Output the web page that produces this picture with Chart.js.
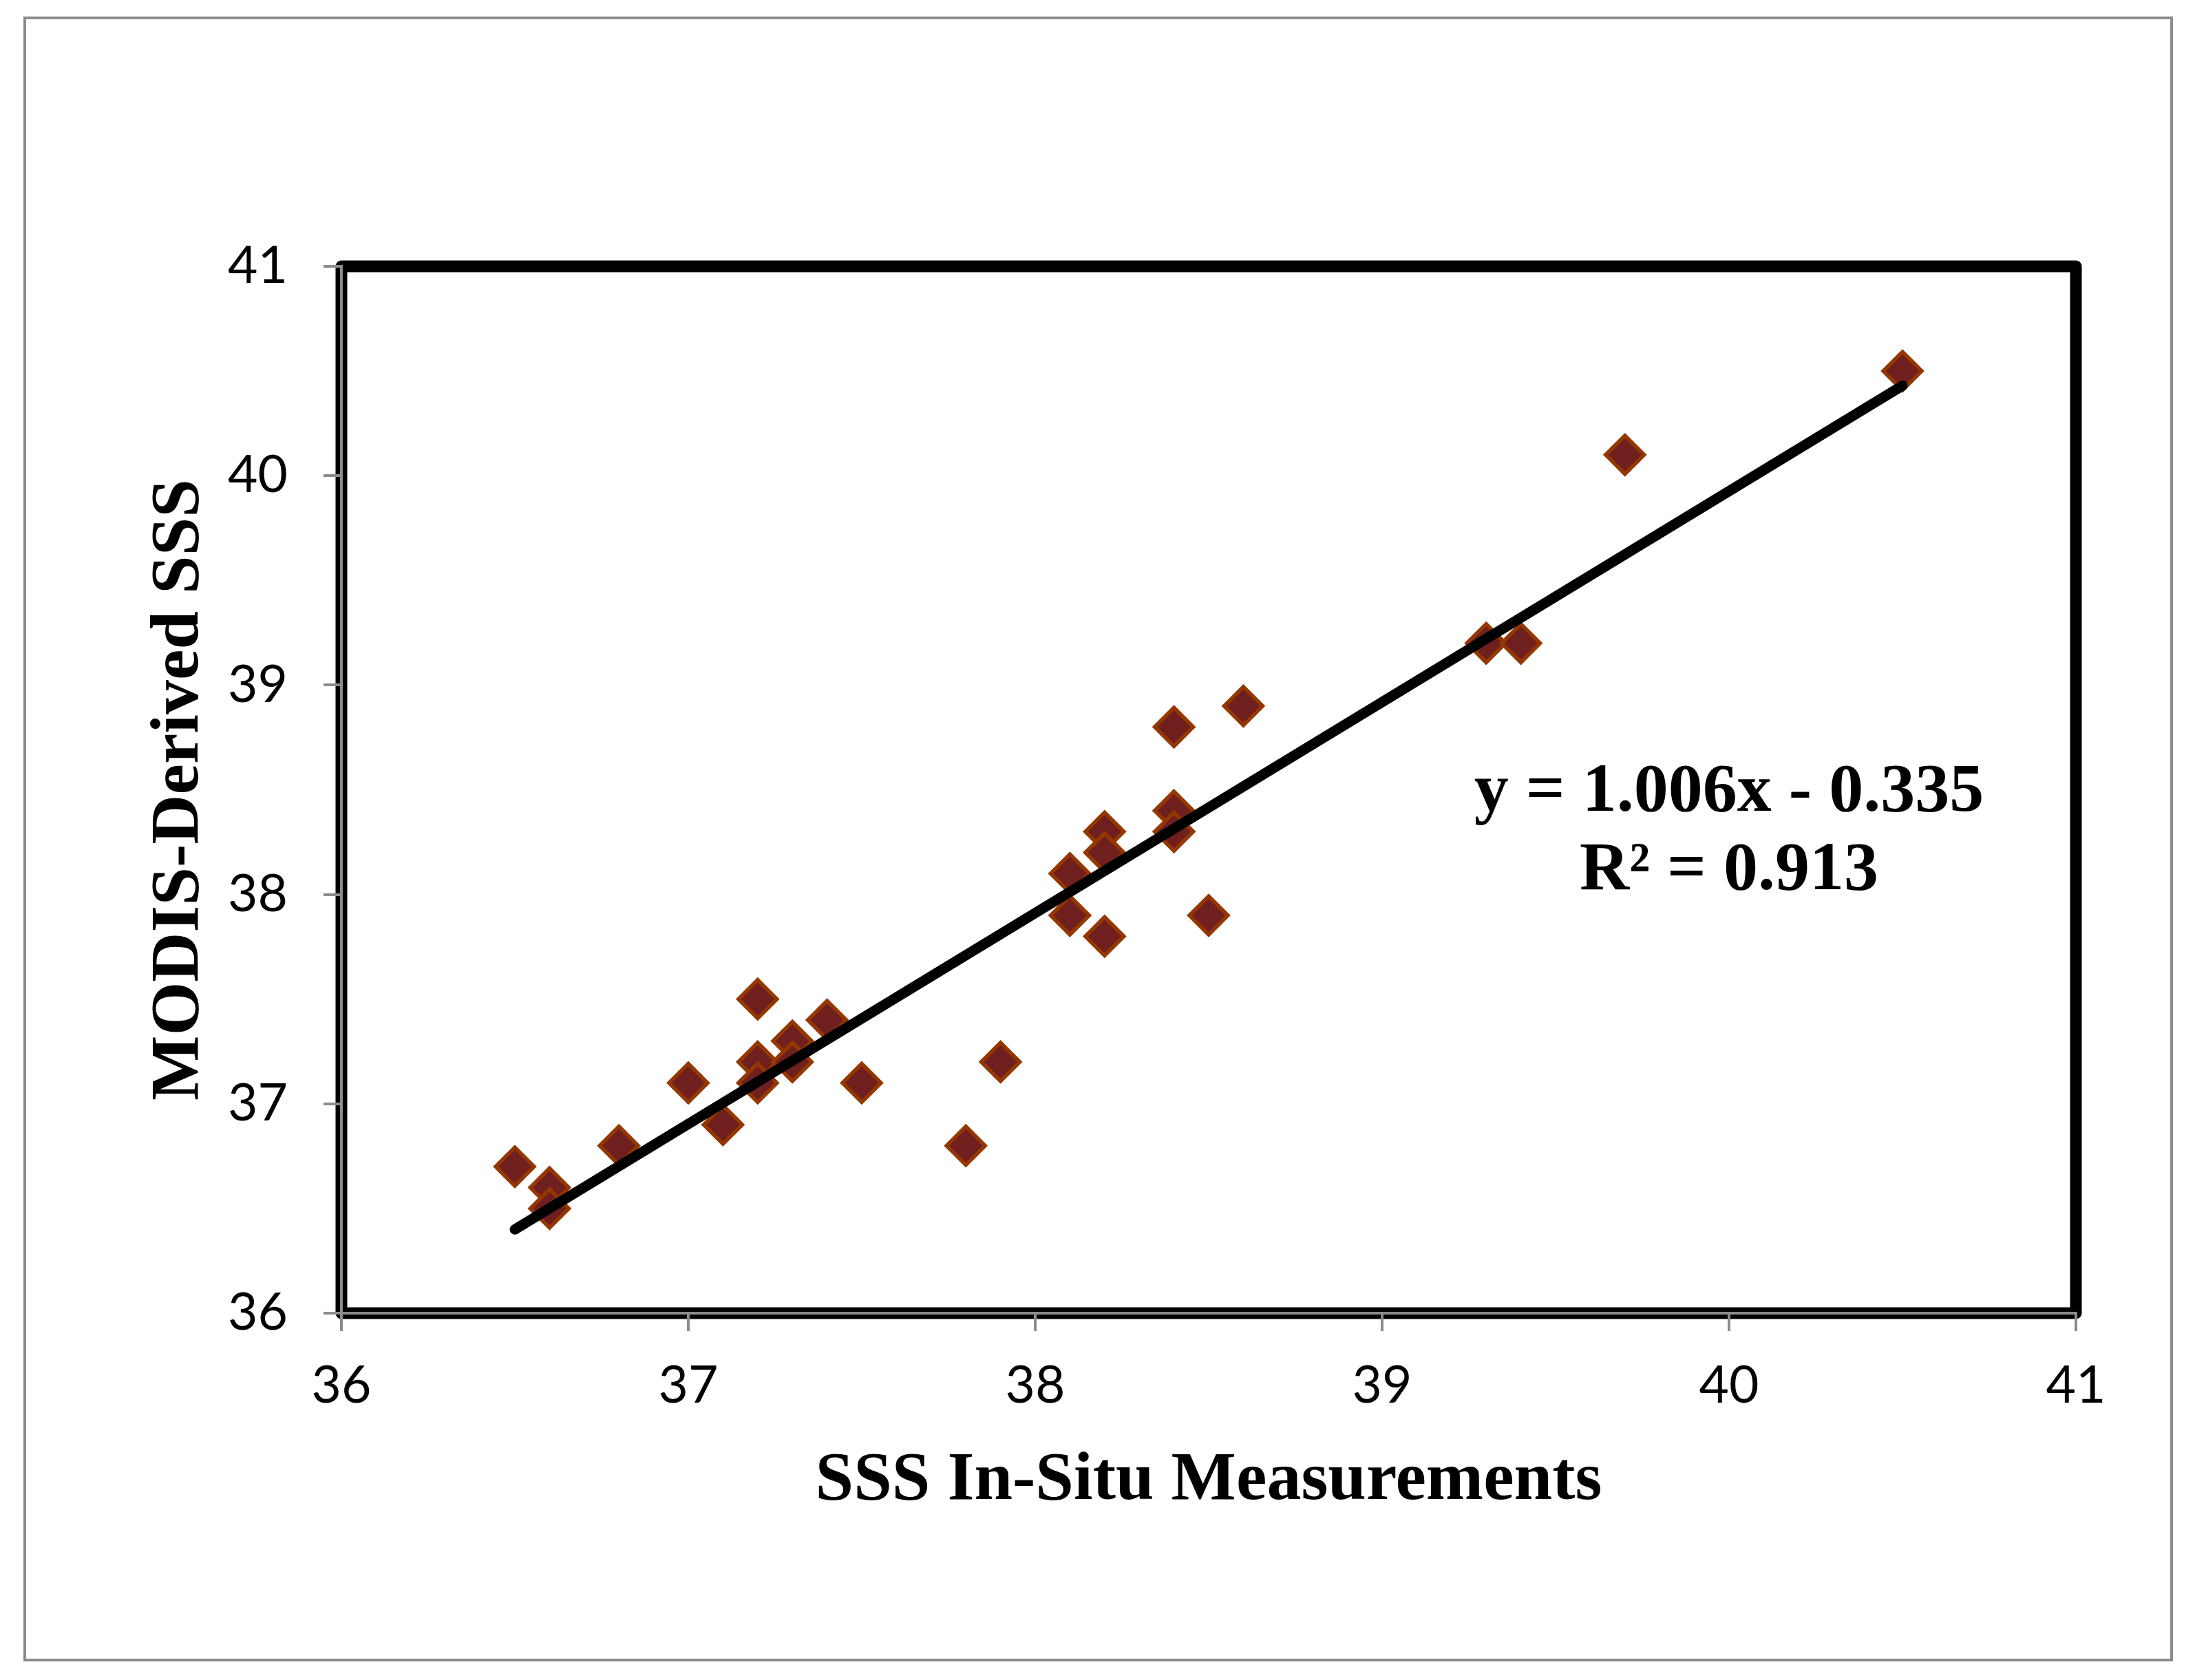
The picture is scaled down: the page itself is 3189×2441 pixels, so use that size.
<!DOCTYPE html>
<html>
<head>
<meta charset="utf-8">
<title>MODIS-Derived SSS vs SSS In-Situ</title>
<script src="https://cdn.jsdelivr.net/npm/chart.js@4.4.0/dist/chart.umd.min.js"></script>
<style>
  html, body { margin: 0; padding: 0; background: #ffffff; }
  #sss-chart { display: block; }
</style>
</head>
<body>
<canvas id="sss-chart" width="3189" height="2441"></canvas>
<script>
// in-situ (x) vs MODIS derived (y) salinity
const inSitu = [36.5, 36.6, 36.6, 36.8, 37.0, 37.1, 37.2, 37.2, 37.2, 37.3, 37.3, 37.4, 37.5, 37.8, 37.9,
                38.1, 38.1, 38.2, 38.2, 38.2, 38.4, 38.4, 38.4, 38.5, 38.6, 39.3, 39.4, 39.7, 40.5];
const modis = [36.7, 36.6, 36.5, 36.8, 37.1, 36.9, 37.5, 37.2, 37.1, 37.3, 37.2, 37.4, 37.1, 36.8, 37.2,
               38.1, 37.9, 38.3, 38.2, 37.8, 38.8, 38.4, 38.3, 37.9, 38.9, 39.2, 39.2, 40.1, 40.5];

// linear trendline end points
const trendX = [36.5, 40.5];
const trendY = [36.40, 40.43];

const xTicks = [36, 37, 38, 39, 40, 41];
const yTicks = [36, 37, 38, 39, 40, 41];

const fitLabels = ['y = 1.006x - 0.335', 'R\u00b2 = 0.913'];
const fitLabelX = 40.0;
const fitLabelY = [38.40, 38.025];

const xTitle = 'SSS In-Situ Measurements';
const yTitle = 'MODIS-Derived SSS';

const tickFont = { family: 'Lato', size: 75 };
const titleFont = { family: 'Liberation Serif', size: 100, weight: 'bold' };
const axisGray = '#8c8c8c';

function toPoints (xs, ys) {
  const pts = [];
  for (let i = 0; i < xs.length; i++) {
    pts.push({ x: xs[i], y: ys[i] });
  }
  return pts;
}

// outer gray frame and the heavy black box round the plot area
const framePlugin = {
  id: 'frames',
  beforeDraw (chart) {
    const ctx = chart.ctx;
    const a = chart.chartArea;
    ctx.save();
    ctx.fillStyle = '#ffffff';
    ctx.fillRect(0, 0, chart.width, chart.height);
    ctx.strokeStyle = axisGray;
    ctx.lineWidth = 4;
    ctx.strokeRect(36, 26, 3155 - 36, 2412 - 26);
    ctx.strokeStyle = '#000000';
    ctx.lineWidth = 17;
    ctx.lineJoin = 'round';
    ctx.strokeRect(a.left, a.top, a.right - a.left, a.bottom - a.top);
    ctx.restore();
  }
};

// trendline equation text
const fitTextPlugin = {
  id: 'fitText',
  afterDraw (chart) {
    const ctx = chart.ctx;
    const xs = chart.scales.x;
    const ys = chart.scales.y;
    ctx.save();
    ctx.fillStyle = '#000000';
    ctx.font = 'bold 100px "Liberation Serif"';
    ctx.textAlign = 'center';
    ctx.textBaseline = 'alphabetic';
    fitLabels.forEach((txt, i) => {
      ctx.fillText(txt, xs.getPixelForValue(fitLabelX), ys.getPixelForValue(fitLabelY[i]));
    });
    ctx.restore();
  }
};

const sss_chart = document.getElementById('sss-chart');

new Chart(sss_chart, {
  type: 'scatter',
  data: {
    datasets: [{
      label: 'Linear fit',
      data: toPoints(trendX, trendY),
      showLine: true,
      borderColor: '#000000',
      borderWidth: 15,
      borderCapStyle: 'round',
      pointRadius: 0,
      order: 0
    }, {
      label: 'SSS',
      data: toPoints(inSitu, modis),
      pointStyle: 'rectRot',
      pointRadius: 28,
      pointBorderWidth: 5.5,
      backgroundColor: '#701f1f',
      borderColor: '#953700',
      order: 1
    }]
  },
  options: {
    responsive: false,
    devicePixelRatio: 1,
    animation: false,
    events: [],
    layout: {
      padding: { top: 387, right: 173, bottom: 133, left: 0 }
    },
    plugins: {
      legend: { display: false },
      tooltip: { enabled: false }
    },
    scales: {
      x: {
        type: 'linear',
        min: xTicks[0],
        max: xTicks[xTicks.length - 1],
        afterBuildTicks: (scale) => { scale.ticks = xTicks.map(v => ({ value: v })); },
        afterFit: (scale) => { scale.height = 400; },
        ticks: { font: tickFont, color: '#000000', padding: 35 },
        grid: { drawOnChartArea: false, drawTicks: true, tickLength: 26, color: axisGray, lineWidth: 4 },
        border: { display: true, color: axisGray, width: 4 },
        title: { display: true, text: xTitle, font: titleFont, color: '#000000', padding: { top: 0, bottom: 96 } }
      },
      y: {
        type: 'linear',
        min: yTicks[0],
        max: yTicks[yTicks.length - 1],
        afterBuildTicks: (scale) => { scale.ticks = yTicks.map(v => ({ value: v })); },
        afterFit: (scale) => { scale.width = 496; },
        ticks: { font: tickFont, color: '#000000', padding: 52 },
        grid: { drawOnChartArea: false, drawTicks: true, tickLength: 26, color: axisGray, lineWidth: 4 },
        border: { display: true, color: axisGray, width: 4 },
        title: { display: true, text: yTitle, font: titleFont, color: '#000000', padding: { top: 201, bottom: 0 } }
      }
    }
  },
  plugins: [framePlugin, fitTextPlugin]
});
</script>
</body>
</html>
